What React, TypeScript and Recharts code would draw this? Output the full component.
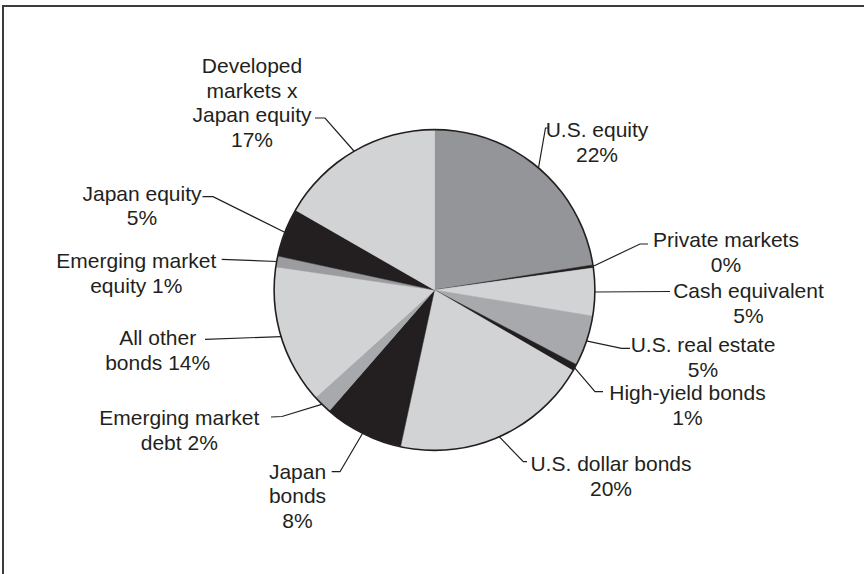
import React from "react";
import { PieChart, Pie, Cell } from "recharts";

// asset allocation, clockwise from 12 o'clock
const categories = [
  "U.S. equity",
  "Private markets",
  "Cash equivalent",
  "U.S. real estate",
  "High-yield bonds",
  "U.S. dollar bonds",
  "Japan bonds",
  "Emerging market debt",
  "All other bonds",
  "Emerging market equity",
  "Japan equity",
  "Developed markets x Japan equity",
];
const sliceValues = [22.5, 0.3, 4.8, 5.1, 0.7, 20, 8, 1.9, 14, 1.1, 4.9, 16.7];
const shownPercents = [22, 0, 5, 5, 1, 20, 8, 2, 14, 1, 5, 17];

// how each label is broken into lines ({p} = percent)
const labelLines = [
  ["U.S. equity", "{p}"],
  ["Private markets", "{p}"],
  ["Cash equivalent", "{p}"],
  ["U.S. real estate", "{p}"],
  ["High-yield bonds", "{p}"],
  ["U.S. dollar bonds", "{p}"],
  ["Japan", "bonds", "{p}"],
  ["Emerging market", "debt {p}"],
  ["All other", "bonds {p}"],
  ["Emerging market", "equity {p}"],
  ["Japan equity", "{p}"],
  ["Developed", "markets x", "Japan equity", "{p}"],
];

const DARK = "#231f20";
const LIGHT = "#d1d3d4";
const MID = "#a7a9ac";
const sliceColors = [
  "#939598", DARK, LIGHT, MID, DARK, LIGHT, DARK, MID, LIGHT, "#9a9c9f", DARK, LIGHT,
];

// leader bends and text anchor, relative to the pie centre
const labelLayout = [
  { bends: [[111, -162], [113.5, -162]], tx: 162.5, ty: -153 },
  { bends: [[205.5, -46], [213.5, -46]], tx: 291.5, ty: -43 },
  { bends: [[235.5, 1.5]], tx: 314, ty: 8 },
  { bends: [[187, 58.3], [195.5, 58.3]], tx: 268.5, ty: 62 },
  { bends: [[160.5, 101.7], [168.5, 101.7]], tx: 253, ty: 110 },
  { bends: [[88.8, 171.7], [92.5, 171.7]], tx: 176.5, ty: 181 },
  { bends: [[-94.5, 181.7], [-102.8, 181.7]], tx: -137, ty: 188.5 },
  { bends: [[-152.5, 126.5], [-163.5, 127]], tx: -255.2, ty: 135 },
  { bends: [[-229.5, 49.3]], tx: -276.8, ty: 55 },
  { bends: [[-212.8, -30.7]], tx: -298.2, ty: -21.7 },
  { bends: [[-221.5, -93.3], [-232, -93.3]], tx: -292.5, ty: -89.5 },
  { bends: [[-109.5, -172], [-119.5, -172]], tx: -182.5, ty: -217 },
];

const data = categories.map((name, i) => ({ name, value: sliceValues[i] }));
const outline = [{ name: "outline", value: 1 }];

const RADIAN = Math.PI / 180;
const LINE_H = 24.7;

function renderLabel(props: any) {
  const { cx, cy, midAngle, outerRadius, index } = props;
  const layout = labelLayout[index];
  const ex = cx + Math.cos(-midAngle * RADIAN) * outerRadius;
  const ey = cy + Math.sin(-midAngle * RADIAN) * outerRadius;
  const pts = [[ex, ey], ...layout.bends.map(([dx, dy]) => [cx + dx, cy + dy])];
  const d = pts.map(([x, y], i) => `${i ? "L" : "M"}${x},${y}`).join(" ");
  const pct = `${shownPercents[index]}%`;
  return (
    <g key={`lbl-${index}`}>
      <path d={d} fill="none" stroke={DARK} strokeWidth={1.2} />
      <text
        x={cx + layout.tx}
        y={cy + layout.ty}
        textAnchor="middle"
        fill={DARK}
        fontSize={21}
        fontFamily="'Liberation Sans', Arial, Helvetica, sans-serif"
      >
        {labelLines[index].map((line, i) => (
          <tspan key={i} x={cx + layout.tx} y={cy + layout.ty + i * LINE_H}>
            {line.replace("{p}", pct)}
          </tspan>
        ))}
      </text>
    </g>
  );
}

export default function App() {
  return (
    <div
      style={{
        position: "absolute",
        left: 0,
        top: 0,
        width: 864,
        height: 574,
        background: "#fff",
        overflow: "hidden",
      }}
    >
      <div
        style={{
          position: "absolute",
          left: 2,
          top: 5,
          width: 880,
          height: 600,
          borderTop: "2px solid #3c3c3c",
          borderLeft: "2px solid #3c3c3c",
        }}
      />
      <div style={{ position: "absolute", left: 0, top: 0 }}>
        <PieChart width={864} height={574} margin={{ top: 0, right: 0, bottom: 0, left: 0 }}>
          <Pie
            data={data}
            dataKey="value"
            nameKey="name"
            cx={434.5}
            cy={290}
            outerRadius={160}
            startAngle={90}
            endAngle={-270}
            label={renderLabel}
            labelLine={false}
            isAnimationActive={false}
          >
            {data.map((entry, index) => (
              <Cell
                key={`cell-${index}`}
                fill={sliceColors[index]}
                stroke={sliceColors[index]}
                strokeWidth={0.5}
              />
            ))}
          </Pie>
          <Pie
            data={outline}
            dataKey="value"
            cx={434.5}
            cy={290}
            innerRadius={159.6}
            outerRadius={161.2}
            startAngle={90}
            endAngle={-270}
            fill={DARK}
            stroke="none"
            isAnimationActive={false}
          />
        </PieChart>
      </div>
    </div>
  );
}
